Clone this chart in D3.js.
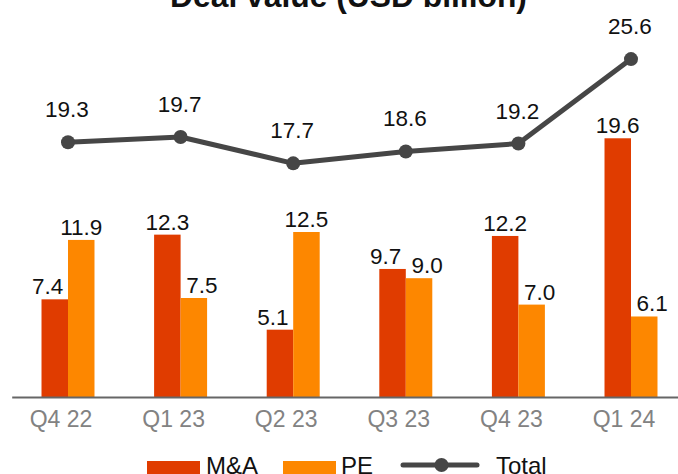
<!DOCTYPE html>
<html>
<head>
<meta charset="utf-8">
<script src="https://cdn.jsdelivr.net/npm/d3@7"></script>
<style>
  body { margin: 0; background: #fff; }
  svg { display: block; font-family: 'Liberation Sans', Arial, Helvetica, sans-serif; }
</style>
</head>
<body>
<div class="container"></div>
<script>
'use strict'

const chartTitle = 'Deal value (USD billion)'
const quarters = ['Q4 22', 'Q1 23', 'Q2 23', 'Q3 23', 'Q4 23', 'Q1 24']
const seriesNames = ['M&A', 'PE']
const mnaValues = [7.4, 12.3, 5.1, 9.7, 12.2, 19.6]
const peValues = [11.9, 7.5, 12.5, 9.0, 7.0, 6.1]
const totalValues = [19.3, 19.7, 17.7, 18.6, 19.2, 25.6]
const legendNames = ['M&A', 'PE', 'Total']

const width = 678
const height = 474
const colors = { 'M&A': '#e03c00', 'PE': '#fd8700' }
const lineColor = '#464646'

const svg = d3.select('.container').append('svg')
  .attr('width', width)
  .attr('height', height)

const x0 = d3.scaleBand()
  .domain(quarters)
  .range([11.7, 687.3])

const x1 = d3.scaleBand()
  .domain(seriesNames)
  .range([0, x0.bandwidth()])
  .paddingOuter(1.125)

const y = d3.scaleLinear()
  .domain([0, 30])
  .range([397, 1])

// title, mostly cut off at the top like the original
svg.append('text')
  .attr('x', 348.5)
  .attr('y', 7)
  .attr('text-anchor', 'middle')
  .style('font-size', '31.8px')
  .style('font-weight', 'bold')
  .style('fill', '#111')
  .text(chartTitle)

const rows = quarters.map((q, i) => ({
  quarter: q,
  values: [
    { name: 'M&A', value: mnaValues[i] },
    { name: 'PE', value: peValues[i] }
  ],
  total: totalValues[i]
}))

const groups = svg.append('g')
  .selectAll('.group')
  .data(rows)
  .enter()
  .append('g')
  .attr('class', 'group')
  .attr('transform', d => `translate(${x0(d.quarter)},0)`)

groups.selectAll('rect')
  .data(d => d.values)
  .enter()
  .append('rect')
  .attr('x', d => x1(d.name))
  .attr('y', d => y(d.value))
  .attr('width', x1.bandwidth())
  .attr('height', d => y(0) - y(d.value))
  .style('fill', d => colors[d.name])

// short labels drift outwards from the pair, like the source
groups.selectAll('text.bar-label')
  .data(d => d.values)
  .enter()
  .append('text')
  .attr('class', 'bar-label')
  .attr('x', d => {
    const label = d.value.toFixed(1)
    const shift = label.length < 4 ? (d.name === 'M&A' ? -7 : 8) : 0
    return x1(d.name) + x1.bandwidth() / 2 + shift
  })
  .attr('y', d => y(d.value) - 5)
  .attr('text-anchor', 'middle')
  .style('font-size', '22.5px')
  .style('fill', '#111')
  .text(d => d.value.toFixed(1))

// x axis
const xAxis = d3.axisBottom(x0)
  .tickSize(0)
  .tickSizeOuter(0)
  .tickPadding(14)

const gX = svg.append('g')
  .attr('transform', `translate(0,${y(0)})`)
  .call(xAxis)

gX.select('.domain')
  .attr('stroke', '#666')
  .attr('stroke-width', 2)

gX.selectAll('text')
  .attr('dx', -7)
  .style('font-family', "'Liberation Sans', Arial, sans-serif")
  .style('font-size', '23px')
  .style('fill', '#828282')

// total line
const line = d3.line()
  .x(d => x0(d.quarter) + x0.bandwidth() / 2)
  .y(d => y(d.total))

svg.append('path')
  .datum(rows)
  .attr('d', line)
  .attr('fill', 'none')
  .attr('stroke', lineColor)
  .attr('stroke-width', 5)
  .attr('stroke-linejoin', 'round')

svg.append('g')
  .selectAll('circle')
  .data(rows)
  .enter()
  .append('circle')
  .attr('cx', d => x0(d.quarter) + x0.bandwidth() / 2)
  .attr('cy', d => y(d.total))
  .attr('r', 7)
  .style('fill', lineColor)

svg.append('g')
  .selectAll('text')
  .data(rows)
  .enter()
  .append('text')
  .attr('x', d => x0(d.quarter) + x0.bandwidth() / 2 - 1)
  .attr('y', d => y(d.total) - 25)
  .attr('text-anchor', 'middle')
  .style('font-size', '22.5px')
  .style('fill', '#111')
  .text(d => d.total.toFixed(1))

// legend
const legend = svg.append('g')
  .attr('class', 'legend')

const legendItems = [
  { name: legendNames[0], x: 147, textX: 206 },
  { name: legendNames[1], x: 283, textX: 341 },
  { name: legendNames[2], x: 403, textX: 496 }
]

legendItems.forEach(item => {
  if (item.name === 'Total') {
    legend.append('line')
      .attr('x1', item.x)
      .attr('x2', item.x + 74)
      .attr('y1', 465)
      .attr('y2', 465)
      .attr('stroke', lineColor)
      .attr('stroke-width', 5)
      .attr('stroke-linecap', 'round')
    legend.append('circle')
      .attr('cx', item.x + 38.5)
      .attr('cy', 465)
      .attr('r', 7)
      .style('fill', lineColor)
  } else {
    legend.append('rect')
      .attr('x', item.x)
      .attr('y', 461)
      .attr('width', 53)
      .attr('height', 20)
      .style('fill', colors[item.name])
  }
  legend.append('text')
    .attr('x', item.textX)
    .attr('y', 474)
    .style('font-size', '24px')
    .style('fill', '#111')
    .text(item.name)
})
</script>
</body>
</html>
